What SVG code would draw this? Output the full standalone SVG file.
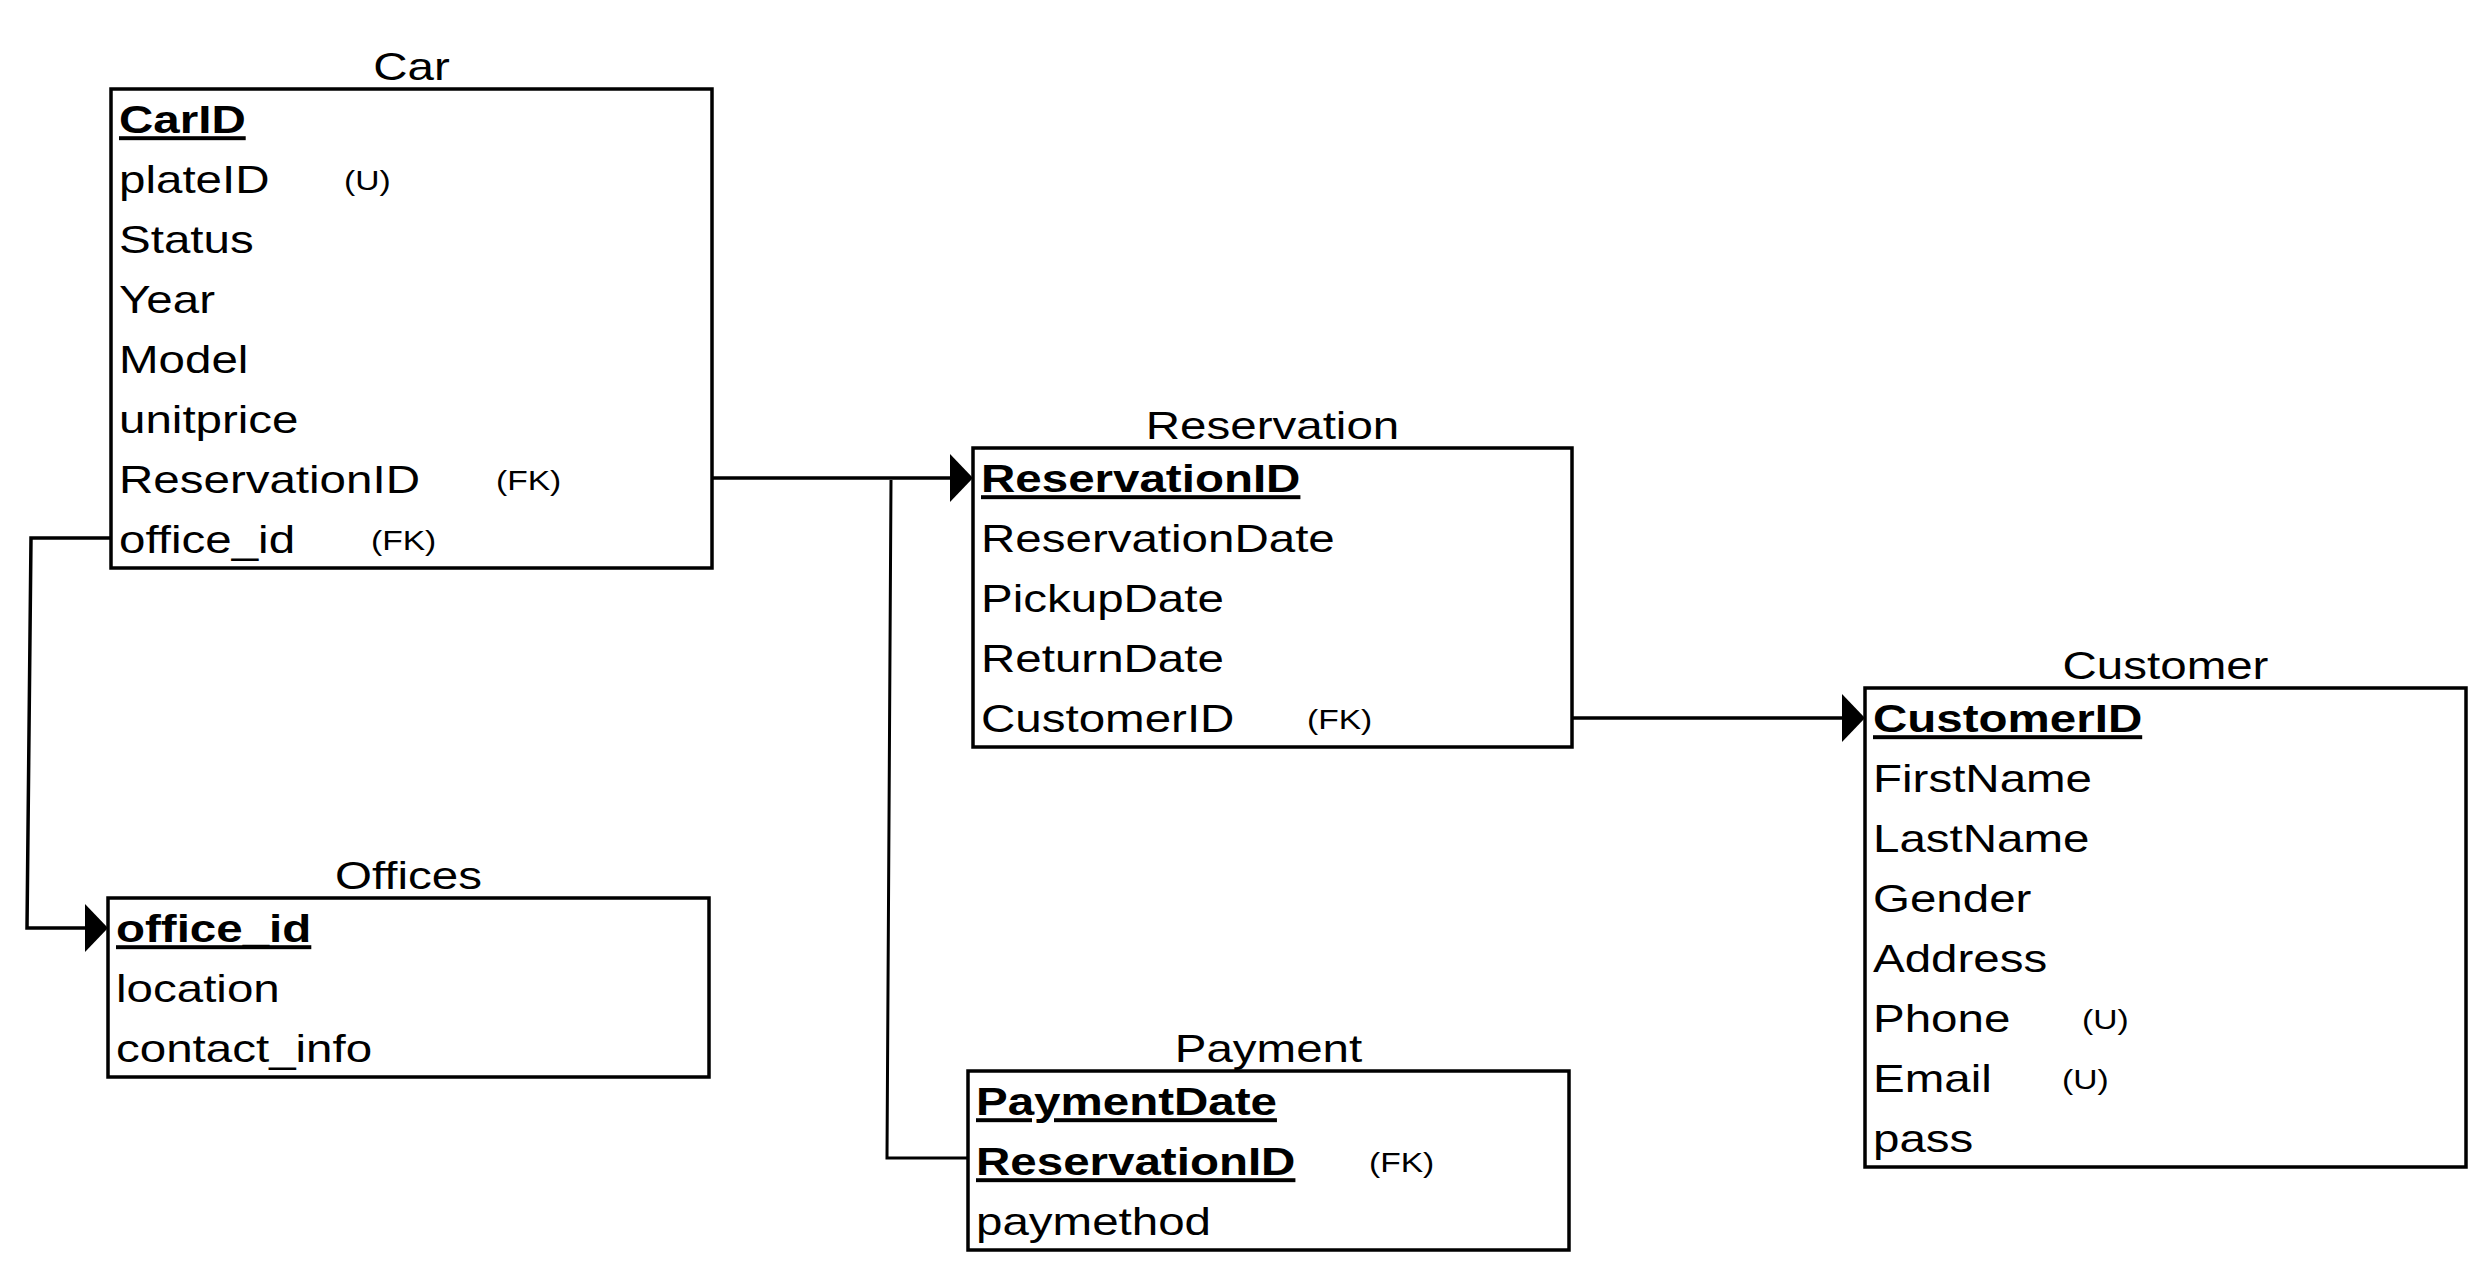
<svg xmlns="http://www.w3.org/2000/svg" width="2492" height="1278" viewBox="0 0 2492 1278">
<style>
  text { font-family: "Liberation Sans", Arial, Helvetica, sans-serif; fill: #000; }
  .t { font-size: 39.6px; }
  .r { font-size: 39.6px; }
  .pk { font-size: 39.6px; font-weight: bold; text-decoration: underline; }
  .s { font-size: 28px; }
  .box { fill: #fff; stroke: #000; stroke-width: 3.5; }
  .edge { fill: none; stroke: #000; stroke-width: 3.5; }
  .thin { fill: none; stroke: #000; stroke-width: 3; }
</style>
<defs>
  <marker id="arrow" viewBox="0 0 23 48" refX="0" refY="24" markerWidth="23" markerHeight="48" markerUnits="userSpaceOnUse" orient="auto">
    <path d="M0,0 L23,24 L0,48 Z" fill="#000"/>
  </marker>
</defs>
<rect width="2492" height="1278" fill="#fff"/>

<g id="connectors">
  <path class="edge" d="M712,478 L950,478" marker-end="url(#arrow)"/>
  <path class="edge" d="M1572,718 L1842,718" marker-end="url(#arrow)"/>
  <path class="edge" d="M111,538 L31,538 L27,928 L85,928" marker-end="url(#arrow)"/>
  <path class="thin" d="M891,480 L887,1158 L968,1158"/>
</g>

<g id="car">
  <text class="t" text-anchor="middle" transform="translate(411.5,80) scale(1.2,1)">Car</text>
  <rect class="box" x="111" y="89" width="601" height="479"/>
  <g transform="translate(119,0) scale(1.2,1)">
    <text class="pk" x="0" y="133.5">CarID</text>
    <text class="r" x="0" y="193.5">plateID</text>
    <text class="s" x="187.5" y="190.5">(U)</text>
    <text class="r" x="0" y="253.5">Status</text>
    <text class="r" x="0" y="313.5">Year</text>
    <text class="r" x="0" y="373.5">Model</text>
    <text class="r" x="0" y="433.5">unitprice</text>
    <text class="r" x="0" y="493.5">ReservationID</text>
    <text class="s" x="314.2" y="490.5">(FK)</text>
    <text class="r" x="0" y="553.5">office_id</text>
    <text class="s" x="210" y="550.5">(FK)</text>
  </g>
</g>

<g id="reservation">
  <text class="t" text-anchor="middle" transform="translate(1272.5,439) scale(1.2,1)">Reservation</text>
  <rect class="box" x="973" y="448" width="599" height="299"/>
  <g transform="translate(981,0) scale(1.2,1)">
    <text class="pk" x="0" y="492.5">ReservationID</text>
    <text class="r" x="0" y="552.5">ReservationDate</text>
    <text class="r" x="0" y="612.5">PickupDate</text>
    <text class="r" x="0" y="672.5">ReturnDate</text>
    <text class="r" x="0" y="732.5">CustomerID</text>
    <text class="s" x="271.7" y="729.5">(FK)</text>
  </g>
</g>

<g id="customer">
  <text class="t" text-anchor="middle" transform="translate(2165.5,679) scale(1.2,1)">Customer</text>
  <rect class="box" x="1865" y="688" width="601" height="479"/>
  <g transform="translate(1873,0) scale(1.2,1)">
    <text class="pk" x="0" y="732.5">CustomerID</text>
    <text class="r" x="0" y="792.5">FirstName</text>
    <text class="r" x="0" y="852.5">LastName</text>
    <text class="r" x="0" y="912.5">Gender</text>
    <text class="r" x="0" y="972.5">Address</text>
    <text class="r" x="0" y="1032.5">Phone</text>
    <text class="s" x="174.2" y="1029.5">(U)</text>
    <text class="r" x="0" y="1092.5">Email</text>
    <text class="s" x="157.5" y="1089.5">(U)</text>
    <text class="r" x="0" y="1152.5">pass</text>
  </g>
</g>

<g id="offices">
  <text class="t" text-anchor="middle" transform="translate(408.5,889) scale(1.2,1)">Offices</text>
  <rect class="box" x="108" y="898" width="601" height="179"/>
  <g transform="translate(116,0) scale(1.2,1)">
    <text class="pk" x="0" y="942.5">office_id</text>
    <text class="r" x="0" y="1002.5">location</text>
    <text class="r" x="0" y="1062.5">contact_info</text>
  </g>
</g>

<g id="payment">
  <text class="t" text-anchor="middle" transform="translate(1268.5,1062) scale(1.2,1)">Payment</text>
  <rect class="box" x="968" y="1071" width="601" height="179"/>
  <g transform="translate(976,0) scale(1.2,1)">
    <text class="pk" x="0" y="1115.5">PaymentDate</text>
    <text class="pk" x="0" y="1175.5">ReservationID</text>
    <text class="s" x="327.5" y="1172.5">(FK)</text>
    <text class="r" x="0" y="1235.5">paymethod</text>
  </g>
</g>
</svg>
